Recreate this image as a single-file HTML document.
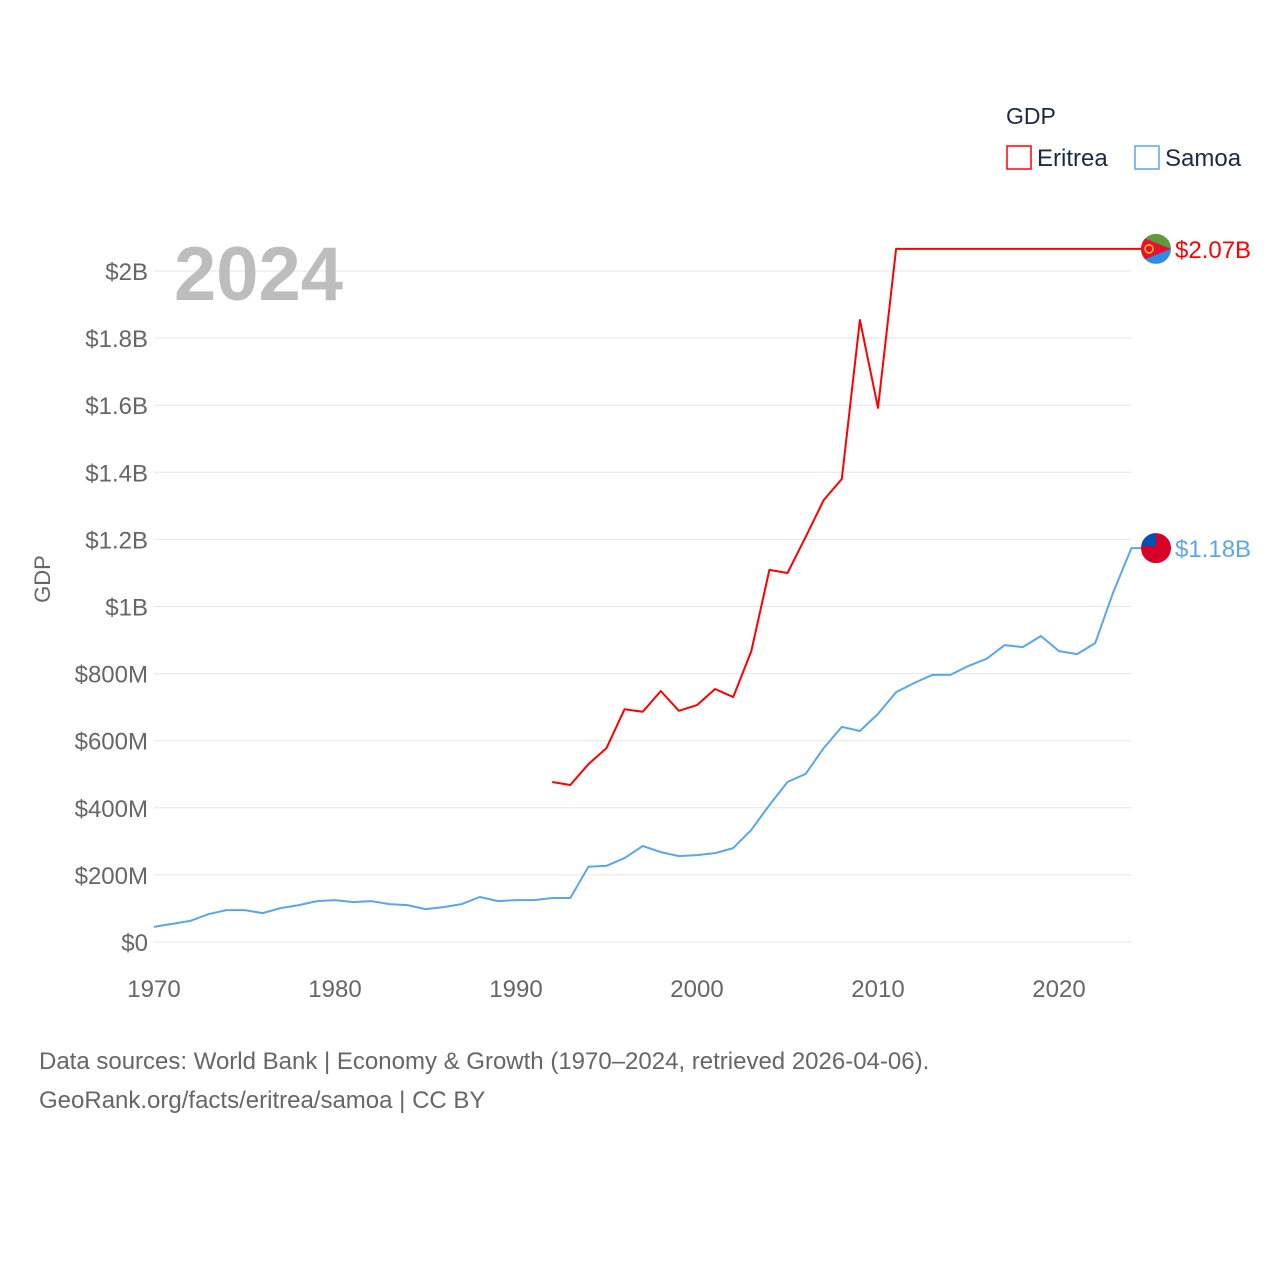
<!DOCTYPE html>
<html><head><meta charset="utf-8"><style>
body{margin:0;background:#fff;}
svg text{font-family:"Liberation Sans",sans-serif;}
</style></head><body>
<svg id="chart" width="1280" height="1280" xmlns="http://www.w3.org/2000/svg">
<g id="grid"></g>
<g id="yticks"></g>
<g id="xticks"></g>
<text x="174" y="300" font-size="76" font-weight="bold" fill="#bdbdbd">2024</text>
<text transform="translate(50,579) rotate(-90)" text-anchor="middle" font-size="22" fill="#666">GDP</text>
<g>
<text x="1006" y="124" font-size="23" fill="#1a2a44">GDP</text>
<g><rect x="1007" y="146" width="24" height="23" fill="none" stroke="#ff0000" stroke-width="1.5"/><text x="1037" y="166" font-size="24" fill="#1a2a44">Eritrea</text></g>
<g><rect x="1135" y="146" width="24" height="23" fill="none" stroke="#5aa6ee" stroke-width="1.5"/><text x="1165" y="166" font-size="24" fill="#1a2a44">Samoa</text></g>
</g>
<g id="series"></g>
<g>
<text x="39" y="1069" font-size="24" fill="#666">Data sources: World Bank | Economy &amp; Growth (1970–2024, retrieved 2026-04-06).</text>
<text x="39" y="1108" font-size="24" fill="#666">GeoRank.org/facts/eritrea/samoa | CC BY</text>
</g>
</svg>
<script>
const yTicks=[0,200,400,600,800,1000,1200,1400,1600,1800,2000];
const yTickLabels=["$0","$200M","$400M","$600M","$800M","$1B","$1.2B","$1.4B","$1.6B","$1.8B","$2B"];
const xTicks=[1970,1980,1990,2000,2010,2020];
const eritreaYears=[1992,1993,1994,1995,1996,1997,1998,1999,2000,2001,2002,2003,2004,2005,2006,2007,2008,2009,2010,2011,2012,2013,2014,2015,2016,2017,2018,2019,2020,2021,2022,2023,2024];
const eritreaValues=[477,468,530,578,694,686,748,689,706,754,730,867,1109,1100,1207,1317,1380,1854,1592,2066,2066,2066,2066,2066,2066,2066,2066,2066,2066,2066,2066,2066,2066];
const samoaYears=[];for(let y=1970;y<=2024;y++)samoaYears.push(y);
const samoaValues=[45,54,63,83,95,95,86,101,110,122,125,119,122,113,110,98,104,113,134,122,125,125,131,131,224,227,250,286,268,256,259,265,280,334,408,477,501,578,641,629,680,745,772,796,796,823,844,885,879,912,867,858,891,1043,1174];
const NS="http://www.w3.org/2000/svg";
const X=y=>154+(y-1970)*18.1;
const Y=v=>942-v*0.3355;
function mk(t,a,p){const e=document.createElementNS(NS,t);for(const k in a)e.setAttribute(k,a[k]);p.appendChild(e);return e;}
const grid=document.getElementById('grid'),yt=document.getElementById('yticks'),xt=document.getElementById('xticks'),ser=document.getElementById('series');
yTicks.forEach((v,i)=>{
 const l=mk('line',{x1:154,x2:1131,y1:Y(v),y2:Y(v),stroke:'#e6e6e6','stroke-width':1},grid);
 
 
 const t=mk('text',{x:148,y:Y(v)+9,'text-anchor':'end','font-size':24,fill:'#666'},yt);
 t.textContent=yTickLabels[i];
 
 
});
xTicks.forEach(y=>{
 const t=mk('text',{x:X(y),y:997,'text-anchor':'middle','font-size':24,fill:'#666'},xt);
 t.textContent=y;
 
 
});
function line(years,vals,color,name){
 let d=years.map((y,i)=>(i?'L':'M')+X(y).toFixed(1)+','+Y(vals[i]).toFixed(1)).join(' ');
 d+=' L1142,'+Y(vals[vals.length-1]).toFixed(1);
 const p=mk('path',{d:d,fill:'none',stroke:color,'stroke-width':2,'stroke-linejoin':'round'},ser);
 
 
}
line(samoaYears,samoaValues,'#5aa6ee','samoa-line');
line(eritreaYears,eritreaValues,'#ff0000','eritrea-line');
function flag(v,kind,color,label,name){
 const cy=Y(v),cx=1156;
 const g=mk('g',{},ser);
 
 
 mk('clipPath',{id:'c'+kind},g);
 mk('circle',{cx:cx,cy:cy,r:15},document.getElementById('c'+kind));
 const inner=mk('g',{'clip-path':'url(#c'+kind+')'},g);
 if(kind==='er'){
  mk('rect',{x:cx-15,y:cy-15,width:30,height:15,fill:'#5f9a3e'},inner);
  mk('rect',{x:cx-15,y:cy,width:30,height:15,fill:'#2f8ae8'},inner);
  mk('polygon',{points:`${cx-15},${cy-12} ${cx+15},${cy} ${cx-15},${cy+12}`,fill:'#e8112d'},inner);
  mk('circle',{cx:cx-7,cy:cy,r:4,fill:'none',stroke:'#ffc726','stroke-width':1.5},inner);
 }else{
  mk('rect',{x:cx-15,y:cy-15,width:30,height:30,fill:'#d80027'},inner);
  mk('rect',{x:cx-15,y:cy-15,width:15,height:13,fill:'#0052b4'},inner);
 }
 const t=mk('text',{x:1175,y:cy+9,'font-size':24,fill:color},ser);
 t.textContent=label;
 
 
}
flag(eritreaValues[eritreaValues.length-1],'er','#ff0000','$2.07B','eritrea');
flag(samoaValues[samoaValues.length-1],'ws','#5aa6ee','$1.18B','samoa');
</script>
</body></html>
